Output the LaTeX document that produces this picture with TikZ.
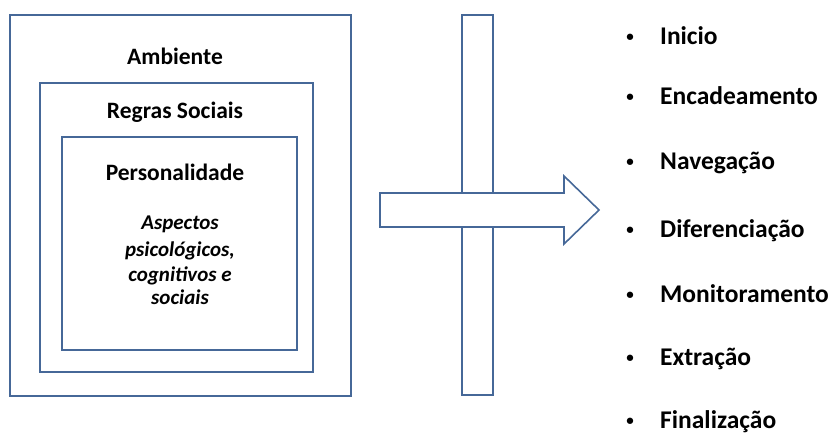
\documentclass[tikz,border=0pt]{standalone}
\usepackage{fontspec}
\setmainfont{Carlito}
\definecolor{bl}{RGB}{70,104,152}
\begin{document}
\begin{tikzpicture}[x=1pt,y=-1pt,
  box/.style={draw=bl, line width=1.6pt, inner sep=0pt, fill=white},
  lbl/.style={anchor=base, font=\bfseries\fontsize{23.5}{28}\selectfont},
  itl/.style={anchor=base, font=\bfseries\itshape\fontsize{21}{25}\selectfont},
  item/.style={anchor=base west, inner sep=0pt, font=\bfseries\fontsize{25.5}{30}\selectfont},
  bul/.style={anchor=base, inner sep=0pt, font=\bfseries\fontsize{15}{18}\selectfont}]
\useasboundingbox (0,0) rectangle (837,433);
% nested boxes
\node[box, minimum width=341pt, minimum height=381pt] (amb) at (180.5,205.5) {};
\node[box, minimum width=273pt, minimum height=289pt] (reg) at (176.5,227.5) {};
\node[box, minimum width=235pt, minimum height=213pt] (per) at (179.5,243.5) {};
\node[lbl] (tamb) at (175,65) {Ambiente};
\node[lbl] (treg) at (175,118) {Regras Sociais};
\node[lbl] (tper) at (175,180) {Personalidade};
\node[itl] (a1) at (180,229) {Aspectos};
\node[itl] (a2) at (180,256) {psicológicos,};
\node[itl] (a3) at (180,281) {cognitivos e};
\node[itl] (a4) at (180,304) {sociais};
% bar and arrow
\node[box, minimum width=31pt, minimum height=380pt] (bar) at (477.5,205) {};
\draw[draw=bl, line width=1.6pt, fill=white, line join=miter]
  (380,193) -- (564,193) -- (564,176) -- (599,210) -- (564,244) -- (564,227) -- (380,227) -- cycle;
% list
\node[bul] (b1) at (630,42) {•};
\node[item] (i1) at (660,45) {Inicio};
\node[bul] (b2) at (630,102) {•};
\node[item] (i2) at (660,105) {Encadeamento};
\node[bul] (b3) at (630,166) {•};
\node[item] (i3) at (660,169) {Navegação};
\node[bul] (b4) at (630,234) {•};
\node[item] (i4) at (660,237) {Diferenciação};
\node[bul] (b5) at (630,299) {•};
\node[item] (i5) at (660,302) {Monitoramento};
\node[bul] (b6) at (630,362) {•};
\node[item] (i6) at (660,365) {Extração};
\node[bul] (b7) at (630,425) {•};
\node[item] (i7) at (660,428) {Finalização};
\end{tikzpicture}
\end{document}
